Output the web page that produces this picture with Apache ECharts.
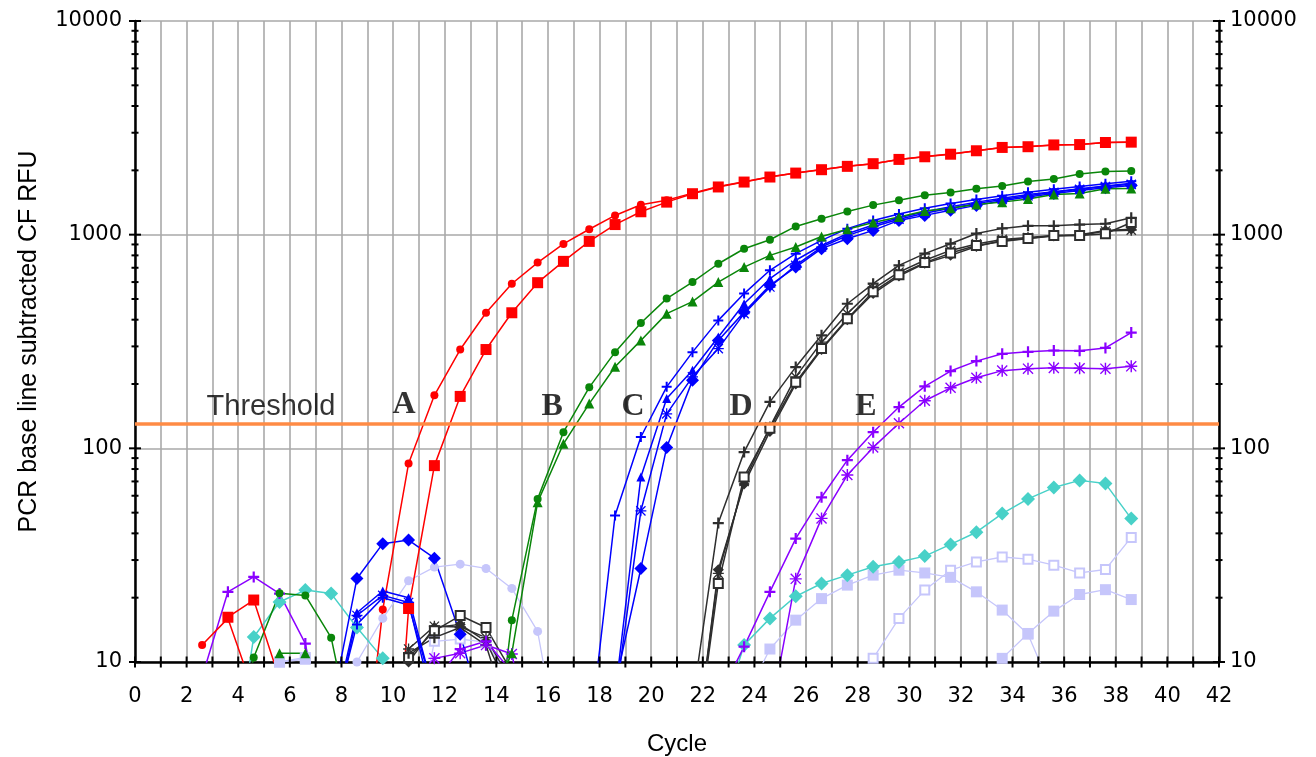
<!DOCTYPE html>
<html>
<head>
<meta charset="utf-8">
<script src="https://cdn.jsdelivr.net/npm/echarts/dist/echarts.min.js"></script>
<style>
html,body{margin:0;padding:0;background:#fff;}
#chart{width:1316px;height:757px;}
</style>
</head>
<body>
<div id="chart"></div>
<script>
// ---------------- DATA ----------------
const cycles = [2.6, 3.6, 4.6, 5.6, 6.6, 7.6, 8.6, 9.6, 10.6, 11.6, 12.6, 13.6, 14.6, 15.6, 16.6, 17.6, 18.6, 19.6, 20.6, 21.6,
                22.6, 23.6, 24.6, 25.6, 26.6, 27.6, 28.6, 29.6, 30.6, 31.6, 32.6, 33.6, 34.6, 35.6, 36.6, 37.6, 38.6];

// Group A (red)
const redCircle = [12, 16, 7.2, 3, 3, 3, 1.5, 17.6, 85, 177, 290, 431, 589, 740, 905, 1060, 1230, 1380, 1450, 1565,
                   1680, 1770, 1865, 1945, 2020, 2090, 2150, 2250, 2320, 2385, 2470, 2560, 2585, 2630, 2645, 2700, 2715];
const redSquare = [null, 16.2, 19.5, 8.3, 3, 3, 3, 0.4, 17.8, 83, 175, 290, 431, 596, 750, 930, 1115, 1280, 1420, 1555,
                   1672, 1763, 1861, 1942, 2014, 2088, 2149, 2250, 2315, 2380, 2470, 2560, 2580, 2630, 2640, 2700, 2710];
// Group B (green)
const greenCircle = [3, 3, 10.5, 21, 20.5, 13, 3.5, 3, 3, 3, 3, 1.6, 15.7, 58, 119, 193, 282, 386, 502, 600,
                     731, 859, 947, 1093, 1188, 1285, 1375, 1450, 1528, 1575, 1640, 1690, 1775, 1820, 1925, 1975, 1985];
const greenTriangle = [3, 3, 3, 11, 11, 5, 3, 3, 3, 3, 3, 5.9, 11, 56, 105, 162, 241, 320, 427, 486,
                       600, 705, 800, 875, 981, 1060, 1140, 1210, 1290, 1330, 1385, 1420, 1470, 1540, 1560, 1640, 1645];
// Group C (blue)
const bluePlus = [3, 3, 3, 3, 3, 5, 15, 20, 18.5, 7, 3, 3, 3, 3, 3, 4.3, 48.5, 113, 194, 282,
                  397, 530, 681, 815, 940, 1067, 1166, 1250, 1330, 1400, 1460, 1520, 1580, 1630, 1680, 1730, 1780];
const blueTriangle = [3, 3, 3, 3, 3, 5, 17, 21.5, 20, 7, 3, 3, 3, 3, 3, 3, 7, 73.5, 171, 232,
                      332, 475, 622, 759, 890, 1010, 1110, 1200, 1280, 1350, 1420, 1480, 1540, 1590, 1640, 1690, 1740];
const blueStar = [3, 3, 3, 3, 3, 4.5, 16.5, 20.5, 19, 6, 3, 3, 3, 3, 3, 3, 6.5, 51, 145, 216,
                  293, 427, 569, 718, 875, 990, 1090, 1180, 1260, 1330, 1400, 1460, 1520, 1580, 1630, 1680, 1720];
const blueDiamond = [3, 3, 3, 3, 3, 6, 24.6, 35.8, 37.2, 30.6, 13.5, 5, 3, 3, 3, 3, 7.8, 27.4, 101, 208,
                     320, 434, 579, 705, 860, 957, 1047, 1166, 1231, 1300, 1371, 1440, 1500, 1560, 1610, 1660, 1700];
// Group D (dark grey)
const darkPlus = [3, 3, 3, 3, 3, 3, 3, 6, 11, 13, 14.5, 12, 5, 3, 3, 3, 3, 3, 3, 6.5,
                  44.7, 96, 165, 240, 338, 475, 590, 718, 815, 907, 1012, 1070, 1100, 1100, 1115, 1125, 1200];
const darkOpenSquare = [3, 3, 3, 3, 3, 3, 3, 3, 10.5, 14, 16.5, 14.5, 9, 3, 3, 3, 3, 3, 3, 3,
                        23.3, 73.5, 124, 204, 293, 404, 540, 650, 740, 820, 890, 930, 960, 990, 990, 1010, 1140];
const darkStar = [3, 3, 3, 3, 3, 3, 3, 3, 11.5, 14.7, 14.6, 13, 8, 3, 3, 3, 3, 3, 3, 3,
                  26, 70, 126, 216, 314, 427, 558, 668, 759, 844, 905, 950, 970, 990, 990, 1040, 1050];
const darkDiamond = [3, 3, 3, 3, 3, 3, 3, 3, 10, 14.5, 15, 12.5, 7, 3, 3, 3, 3, 3, 3, 3,
                     27, 68, 120, 200, 290, 400, 530, 640, 735, 800, 880, 940, 960, 985, 1000, 1045, 1060];
// Group E (purple)
const purplePlus = [8.5, 21.3, 25, 20.9, 12.2, 3, 3, 3, 3, 8, 11.5, 12.5, 9, 3, 3, 3, 3, 3, 3, 3,
                    6.8, 11.8, 21.3, 37.8, 59, 88, 119, 156, 195, 230, 256, 277, 283, 287, 286, 295, 348];
const purpleStar = [3, 3, 3, 3, 3, 3, 3, 3, 3, 10.4, 11, 12, 10.9, 3, 3, 3, 3, 3, 3, 3,
                    3, 3, 5.5, 24.5, 47, 75, 101, 131, 167, 192, 214, 231, 236, 238, 237, 236, 242];
// Non-amplifying wells
const turquoise = [null, 2.2, 13.1, 19.1, 21.7, 20.9, 14.5, 10.4, 3, 3, 3, 3, 3, 3, 3, 3, 3, 3, 3, 3,
                   5, 12, 16, 20.3, 23.3, 25.5, 27.9, 29.4, 31.3, 35.5, 40.5, 49.5, 58, 65.5, 70.8, 68.4, 46.9];
const lavenderSquare = [3, 3, 3, 10, 10.3, 3, 3, 3, 3, 3, 3, 3, 3, 3, 3, 3, 3, 3, 3, 3,
                        3, 6.6, 11.5, 15.7, 19.8, 22.9, 25.5, 26.9, 26.1, 24.9, 21.3, 17.5, 13.5, 7, null, null, null];
const lavenderSquare2 = [null, null, null, null, null, null, null, null, null, null, null, null, null, null, null, null, null, null, null, null,
                         null, null, null, null, null, null, null, null, null, null, 4, 10.4, 13.6, 17.3, 20.7, 21.8, 19.6];
const lavenderCircle = [null, null, null, null, null, 3, 10, 16, 24, 27.8, 28.7, 27.4, 22.1, 13.9, 3, null, null, null, null, null,
                        null, null, null, null, null, null, null, null, null, null, null, null, null, null, null, null, null];
const lavenderOpen = [3, 3, 3, 10, 10.5, 3, 3, 3, 3, 12.5, 12.8, 12.4, 8, 3, 3, 3, 3, 3, 3, 3,
                      3, 3, 3, 3, 3, 5, 10.4, 16, 21.7, 26.9, 29.4, 31, 30.3, 28.4, 26.1, 27.1, 38.3];

const thresholdValue = 130;
const yMajorTicks = [10, 100, 1000, 10000];
const yMinorTicks = [20, 30, 40, 50, 60, 70, 80, 90, 200, 300, 400, 500, 600, 700, 800, 900,
                     2000, 3000, 4000, 5000, 6000, 7000, 8000, 9000];
const xTickCycles = [0,1,2,3,4,5,6,7,8,9,10,11,12,13,14,15,16,17,18,19,20,21,22,23,24,25,26,27,28,29,30,31,32,33,34,35,36,37,38,39,40,41,42];
const annotText = ['Threshold', 'A', 'B', 'C', 'D', 'E'];
const annotX = [5.27, 10.42, 16.16, 19.3, 23.48, 28.32];
const annotY = [156, 160, 156, 156, 156, 156];

// ---------------- CHART ----------------
const X_MIN = 0, X_MAX = 42, Y_MIN = 10, Y_MAX = 10000;
const PLUS = 'path://M4,0H6V4H10V6H6V10H4V6H0V4H4Z';
const STAR = 'path://M4.4,0H5.6V4.4H10V5.6H5.6V10H4.4V5.6H0V4.4H4.4Z M1.2,0.4L9.6,8.8L8.8,9.6L0.4,1.2Z M8.8,0.4L9.6,1.2L1.2,9.6L0.4,8.8Z';

function toPairs(arr) {
  const out = [];
  arr.forEach((v, i) => { if (v !== null && v !== undefined) out.push([cycles[i], v]); });
  return out;
}
function lineSeries(name, arr, color, symbol, size, opts) {
  opts = opts || {};
  const item = { color: color };
  if (opts.empty) item.borderWidth = 1.4;
  return {
    name: name, type: 'line', data: toPairs(arr),
    symbol: symbol, symbolSize: size, showSymbol: true,
    clip: true, animation: false, silent: true,
    lineStyle: { color: color, width: opts.width || 1.5 },
    itemStyle: item,
    z: opts.z || 2
  };
}

const LAV = '#c6c6fb', CYAN = '#48d1c8', DARK = '#2e2e2e', PURP = '#8a00ff', BLUE = '#0000ff', GREEN = '#0a860a', RED = '#ff0000';

const series = [
  lineSeries('lavCircle', lavenderCircle, LAV, 'circle', 9, {width: 1.3}),
  lineSeries('lavOpen', lavenderOpen, LAV, 'emptyRect', 9, {width: 1.3, empty: true}),
  lineSeries('lavSquare', lavenderSquare, LAV, 'rect', 11, {width: 1.3}),
  lineSeries('lavSquare2', lavenderSquare2, LAV, 'rect', 11, {width: 1.3}),
  lineSeries('turq', turquoise, CYAN, 'diamond', 14),
  lineSeries('darkDiamond', darkDiamond, DARK, 'diamond', 11),
  lineSeries('darkStar', darkStar, DARK, STAR, 11),
  lineSeries('darkOpen', darkOpenSquare, DARK, 'emptyRect', 9, {empty: true}),
  lineSeries('darkPlus', darkPlus, DARK, PLUS, 11),
  lineSeries('purpleStar', purpleStar, PURP, STAR, 12),
  lineSeries('purplePlus', purplePlus, PURP, PLUS, 11),
  lineSeries('blueDiamond', blueDiamond, BLUE, 'diamond', 13),
  lineSeries('blueStar', blueStar, BLUE, STAR, 11),
  lineSeries('blueTri', blueTriangle, BLUE, 'triangle', 9),
  lineSeries('bluePlus', bluePlus, BLUE, PLUS, 10),
  lineSeries('greenTri', greenTriangle, GREEN, 'triangle', 10),
  lineSeries('greenCircle', greenCircle, GREEN, 'circle', 8),
  lineSeries('redCircle', redCircle, RED, 'circle', 8),
  lineSeries('redSquare', redSquare, RED, 'rect', 11)
];

// tick marks (crossing the axis lines) drawn through the axes' scales
const tickData = [];
yMajorTicks.forEach(v => { tickData.push([X_MIN, v, 0]); tickData.push([X_MAX, v, 0]); });
yMinorTicks.forEach(v => { tickData.push([X_MIN, v, 1]); tickData.push([X_MAX, v, 1]); });
xTickCycles.forEach(c => { tickData.push([c, Y_MIN, 2]); });

series.push({
  type: 'custom', data: tickData, clip: false, silent: true, animation: false, z: 20,
  encode: { x: 0, y: 1 },
  renderItem: function (params, api) {
    const p = api.coord([api.value(0), api.value(1)]);
    const k = api.value(2);
    const h = k === 0 ? 6 : (k === 1 ? 3.5 : 5.5);
    const shape = k === 2 ? { x1: p[0], y1: p[1] - h, x2: p[0], y2: p[1] + h }
                          : { x1: p[0] - h, y1: p[1], x2: p[0] + h, y2: p[1] };
    return { type: 'line', shape: shape, style: { stroke: '#000', lineWidth: 2 } };
  }
});

// annotations + threshold line
const thresholdLabel = { fontFamily: 'Liberation Sans, Arial, sans-serif', fontSize: 29, color: '#000' };
const letterLabel = { fontFamily: 'Liberation Serif, Times New Roman, serif', fontWeight: 'bold', fontSize: 32, color: '#000' };
series.push({
  type: 'scatter', symbolSize: 0, silent: true, animation: false, z: 15,
  data: annotText.map((t, i) => ({
    value: [annotX[i], annotY[i]],
    label: Object.assign({ show: true, position: 'inside', formatter: t }, i === 0 ? thresholdLabel : letterLabel)
  })),
  markLine: {
    silent: true, symbol: 'none', animation: false,
    label: { show: false },
    lineStyle: { color: '#ff8b45', width: 3.5, type: 'solid' },
    data: [{ yAxis: thresholdValue }]
  }
});

const tickFont = { fontFamily: 'DejaVu Sans, sans-serif', fontSize: 21, color: '#000' };
const gridLine = { color: '#a9a9a9', width: 1.6 };
const axisLineStyle = { color: '#000', width: 2.5 };

const option = {
  animation: false,
  backgroundColor: '#ffffff',
  grid: { left: 135, right: 97, top: 21, bottom: 95, containLabel: false, outerBoundsMode: 'none' },
  xAxis: {
    type: 'value', min: X_MIN, max: X_MAX, interval: 1,
    name: 'Cycle', nameLocation: 'middle', nameGap: 70,
    nameTextStyle: { fontFamily: 'Liberation Sans, Arial, sans-serif', fontSize: 24, color: '#000' },
    axisLine: { show: true, lineStyle: axisLineStyle, onZero: false },
    axisTick: { show: false },
    axisLabel: Object.assign({ margin: 24, formatter: v => (Math.round(v) % 2 === 0 ? String(Math.round(v)) : '') , showMinLabel: true, showMaxLabel: true}, tickFont),
    splitLine: { show: true, lineStyle: gridLine }
  },
  yAxis: [
    {
      type: 'log', logBase: 10, min: Y_MIN, max: Y_MAX, position: 'left',
      name: 'PCR base line subtracted CF RFU', nameLocation: 'middle', nameGap: 93, nameRotate: 90,
      nameTextStyle: { fontFamily: 'Liberation Sans, Arial, sans-serif', fontSize: 25, color: '#000' },
      axisLine: { show: true, lineStyle: axisLineStyle },
      axisTick: { show: false },
      axisLabel: Object.assign({ margin: 13, formatter: v => String(Math.round(v)) }, tickFont),
      splitLine: { show: true, lineStyle: gridLine }
    },
    {
      type: 'log', logBase: 10, min: Y_MIN, max: Y_MAX, position: 'right',
      axisLine: { show: true, lineStyle: axisLineStyle },
      axisTick: { show: false },
      axisLabel: Object.assign({ margin: 11, formatter: v => String(Math.round(v)) }, tickFont),
      splitLine: { show: false }
    }
  ],
  series: series
};

const chart = echarts.init(document.getElementById('chart'), null, { renderer: 'canvas' });
chart.setOption(option);
</script>
</body>
</html>
